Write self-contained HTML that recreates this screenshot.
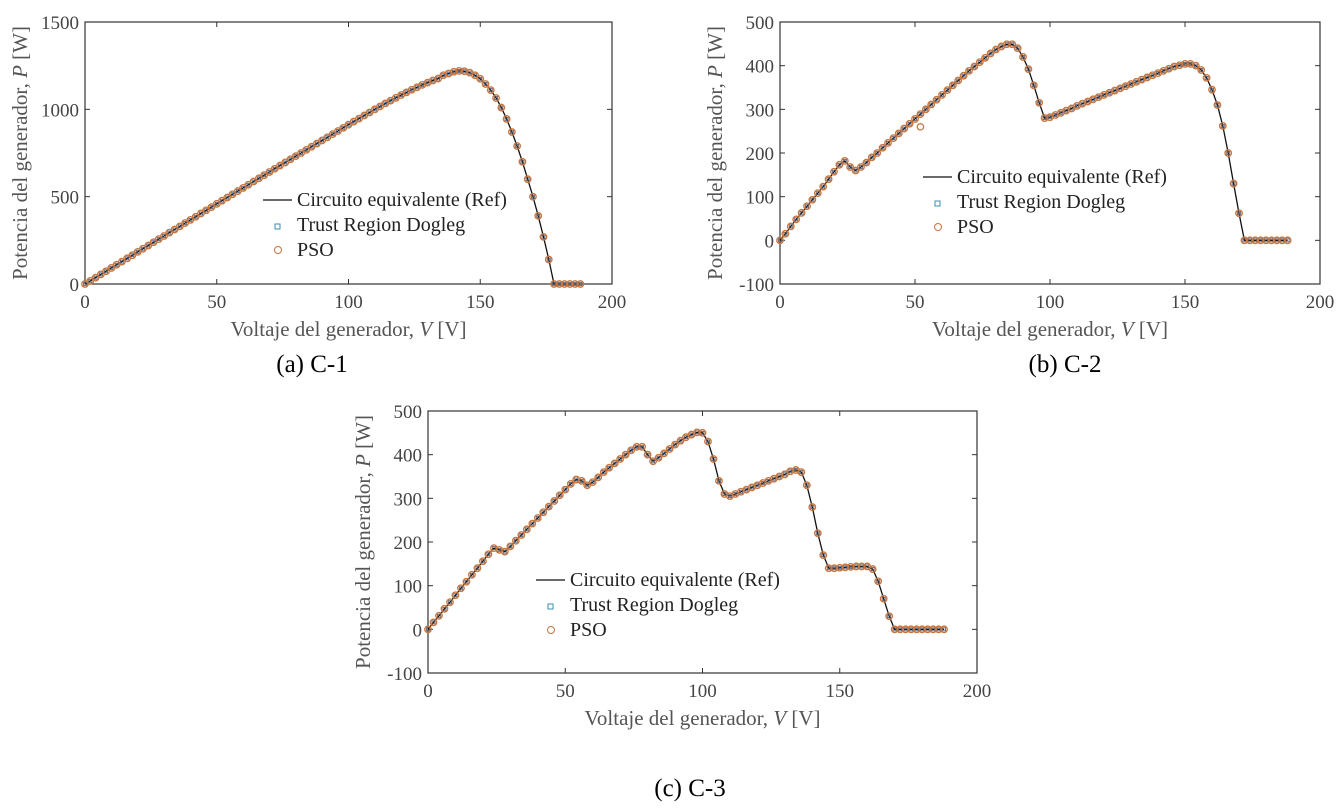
<!DOCTYPE html>
<html><head><meta charset="utf-8"><style>
body{margin:0;background:#fff;width:1342px;height:809px;overflow:hidden}
svg{position:absolute;left:0;top:0}
text{font-family:"Liberation Serif",serif}
</style></head><body>
<svg id="s" width="1342" height="809"></svg>
<script>
const volts=[0,2,4,6,8,10,12,14,16,18,20,22,24,26,28,30,32,34,36,38,40,42,44,46,48,50,52,54,56,58,60,62,64,66,68,70,72,74,76,78,80,82,84,86,88,90,92,94,96,98,100,102,104,106,108,110,112,114,116,118,120,122,124,126,128,130,132,134,136,138,140,142,144,146,148,150,152,154,156,158,160,162,164,166,168,170,172,174,176,178,180,182,184,186,188];
const powerC1=[0,18,36,55,73,92,110,128,147,165,184,202,220,239,257,275,294,312,330,349,367,385,404,422,440,459,477,495,514,532,550,568,587,605,623,641,660,678,696,714,732,750,768,786,804,822,840,858,876,894,912,930,947,965,982,1000,1017,1034,1050,1066,1082,1097,1112,1126,1140,1153,1165,1176,1195,1205,1215,1220,1218,1210,1195,1175,1145,1110,1065,1010,945,870,790,700,600,500,390,270,140,0,0,0,0,0,0];
const powerC2=[0,15,32,48,63,78,93,108,123,140,157,173,182,168,160,168,178,190,200,212,223,234,245,256,267,278,289,300,311,322,333,344,355,366,377,388,398,408,418,428,437,444,449,449,440,420,392,355,315,280,282,287,292,297,302,308,313,318,323,328,333,338,343,348,353,358,363,368,373,378,383,388,393,398,401,404,404,400,390,372,345,310,262,200,130,62,0,0,0,0,0,0,0,0,0];
const powerC3=[0,16,31,47,62,78,94,109,125,140,156,172,186,182,178,190,203,216,229,242,255,268,281,294,307,320,333,343,340,330,337,348,360,370,380,390,400,410,418,418,400,385,393,403,413,423,432,440,446,451,450,430,390,340,310,305,310,315,320,325,330,335,340,345,350,355,362,365,360,330,280,220,170,140,140,141,142,143,144,144,144,138,110,70,30,0,0,0,0,0,0,0,0,0,0];
const psoOutlierV=[52];const psoOutlierP=[260];
const xTicks=[0,50,100,150,200];
const yTicksC1=[0,500,1000,1500];
const yTicksC2=[-100,0,100,200,300,400,500];
const yTicksC3=[-100,0,100,200,300,400,500];
const NS="http://www.w3.org/2000/svg";
const svg=document.getElementById('s');
const MC='#c8753e';
function el(t,a,p){const e=document.createElementNS(NS,t);for(const k in a)e.setAttribute(k,a[k]);(p||svg).appendChild(e);return e;}
function panel(id,L,R,T,B,ymin,ymax,yt,pw,outV,outP,leg,cap){
  const g=el('g',{});
  
  
  const xs=v=>L+(v/200)*(R-L);
  const ys=p=>B-(p-ymin)/(ymax-ymin)*(B-T);
  const box=el('rect',{x:L,y:T,width:R-L,height:B-T,fill:'none',stroke:'#333','stroke-width':1.2},g);
  
  
  xTicks.forEach(v=>{
    el('line',{x1:xs(v),x2:xs(v),y1:B,y2:B-5,stroke:'#333'},g);
    el('line',{x1:xs(v),x2:xs(v),y1:T,y2:T+5,stroke:'#333'},g);
    const t=el('text',{x:xs(v),y:B+24,'font-size':19,fill:'#444','text-anchor':'middle'},g);t.textContent=v;
    
    
  });
  yt.forEach(v=>{
    el('line',{x1:L,x2:L+5,y1:ys(v),y2:ys(v),stroke:'#333'},g);
    el('line',{x1:R,x2:R-5,y1:ys(v),y2:ys(v),stroke:'#333'},g);
    const t=el('text',{x:L-6,y:ys(v)+7,'font-size':19,fill:'#444','text-anchor':'end'},g);t.textContent=v;
    
    
  });
  const d=volts.map((v,i)=>(i?'L':'M')+xs(v).toFixed(1)+','+ys(pw[i]).toFixed(1)).join('');
  const ln=el('path',{d:d,fill:'none',stroke:'#111','stroke-width':1.3},g);
  
  
  volts.forEach((v,i)=>{
    const q=el('rect',{x:xs(v)-1.5,y:ys(pw[i])-1.5,width:3,height:3,fill:'none',stroke:'#556','stroke-width':0.8},g);
    
    
  });
  volts.forEach((v,i)=>{
    const c=el('circle',{cx:xs(v),cy:ys(pw[i]),r:3.2,fill:'none',stroke:MC,'stroke-width':1.4},g);
    
    
  });
  outV.forEach((v,i)=>{
    const c=el('circle',{cx:xs(v),cy:ys(outP[i]),r:3.2,fill:'none',stroke:MC,'stroke-width':1.2},g);
    
    
  });
  const lg=el('g',{},g);
  
  
  el('line',{x1:leg[0]-34,x2:leg[0]-5,y1:leg[1]-6,y2:leg[1]-6,stroke:'#111','stroke-width':1.3},lg);
  el('rect',{x:leg[0]-22,y:leg[1]+18,width:5,height:5,fill:'none',stroke:'#3a8fb0'},lg);
  el('circle',{cx:leg[0]-19,cy:leg[1]+44,r:3.5,fill:'none',stroke:MC},lg);
  ['Circuito equivalente (Ref)','Trust Region Dogleg','PSO'].forEach((s,i)=>{
    const t=el('text',{x:leg[0],y:leg[1]+i*25,'font-size':20,fill:'#222'},lg);t.textContent=s;
    
    
  });
  const xl=el('text',{x:(L+R)/2,y:B+52,'font-size':21,fill:'#555','text-anchor':'middle'},g);
  xl.innerHTML='Voltaje del generador, <tspan font-style="italic">V</tspan> [V]';
  
  
  const yl=el('text',{x:0,y:0,'font-size':21,fill:'#555','text-anchor':'middle',transform:`translate(${L-58},${(T+B)/2}) rotate(-90)`},g);
  yl.innerHTML='Potencia del generador, <tspan font-style="italic">P</tspan> [W]';
  
  
  const cp=el('text',{x:cap[0],y:cap[1],'font-size':25,fill:'#000','text-anchor':'middle'},g);cp.textContent=cap[2];
  
  
}
panel('c1',85,612,22,284,0,1500,yTicksC1,powerC1,[],[],[297,206],[312,372,'(a) C-1']);
panel('c2',780,1320,22,284,-100,500,yTicksC2,powerC2,psoOutlierV,psoOutlierP,[957,183],[1065,372,'(b) C-2']);
panel('c3',428,977,411,673,-100,500,yTicksC3,powerC3,[],[],[570,586],[690,796,'(c) C-3']);
</script>
</body></html>
